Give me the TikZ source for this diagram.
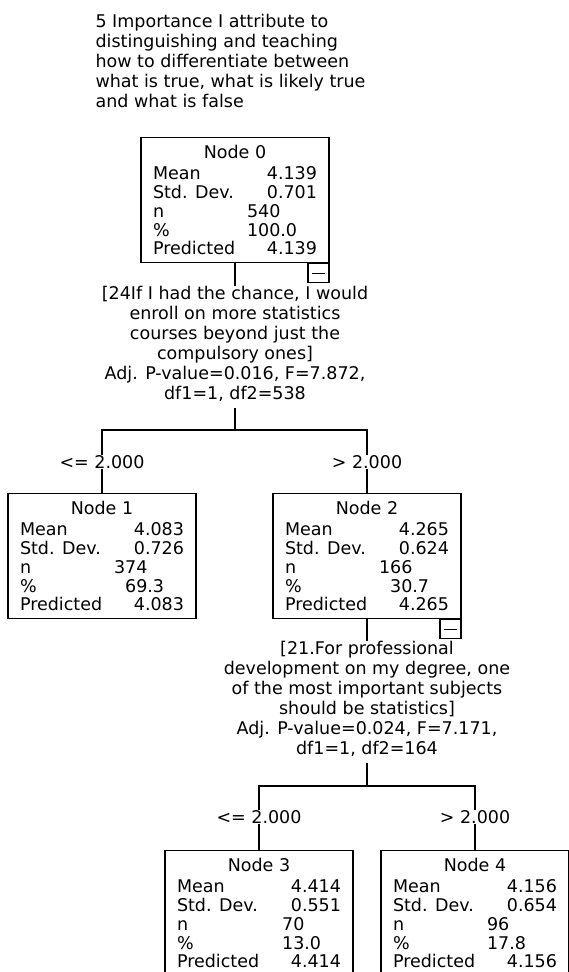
\documentclass[tikz,border=0pt]{standalone}
\usepackage{fontspec}
\setmainfont{DejaVu Sans}

% contenu d'un noeud de l'arbre
\newcommand{\nodestats}[6]{%
  \makebox[164pt][c]{#1}\\[3pt]
  \makebox[94pt][l]{Mean}\makebox[70pt][r]{#2}\\
  \makebox[94pt][l]{Std. Dev.}\makebox[70pt][r]{#3}\\
  \makebox[94pt][l]{n}\makebox[70pt][l]{#4}\\
  \makebox[94pt][l]{\%}\makebox[70pt][l]{#5}\\
  \makebox[94pt][l]{Predicted}\makebox[70pt][r]{#6}}

\begin{document}
\begin{tikzpicture}[x=1pt,y=-1pt,line width=1.1pt,
  every node/.style={inner sep=0pt,font=\fontsize{17.5}{20}\selectfont},
  treebox/.style={draw,anchor=north,minimum width=188pt,minimum height=125pt,
    align=left,font=\fontsize{17.5}{18.75}\selectfont},
  splittext/.style={anchor=north,align=center},
  togglebox/.style={draw,anchor=north east,minimum width=21pt,minimum height=19pt,
    path picture={\draw[line width=1pt] ([xshift=4pt]path picture bounding box.west)
      -- ([xshift=-4pt]path picture bounding box.east);}}]
  \useasboundingbox (0,0) rectangle (568,972);

  % variable dependante
  \node[anchor=north west,align=left] (title) at (95,14)
    {5 Importance I attribute to\\distinguishing and teaching\\how to differentiate between\\what is true, what is likely true\\and what is false};

  % niveau 0
  \node[treebox] (node0) at (235,137) {\nodestats{Node 0}{4.139}{0.701}{540}{100.0}{4.139}};
  \node[togglebox] (tog0) at (node0.south east) {};
  \node[splittext] (split0) at (235,286)
    {[24If I had the chance, I would\\enroll on more statistics\\courses beyond just the\\compulsory ones]\\Adj. P-value=0.016, F=7.872,\\df1=1, df2=538};
  \coordinate (fork0) at (235,430);

  % niveau 1
  \node (lab1) at (102,462) {<= 2.000};
  \node (lab2) at (367,462) {> 2.000};
  \node[treebox] (node1) at (102,493) {\nodestats{Node 1}{4.083}{0.726}{374}{\phantom{0}69.3}{4.083}};
  \node[treebox] (node2) at (367,493) {\nodestats{Node 2}{4.265}{0.624}{166}{\phantom{0}30.7}{4.265}};
  \node[togglebox] (tog2) at (node2.south east) {};
  \node[splittext] (split1) at (367,641)
    {[21.For professional\\development on my degree, one\\of the most important subjects\\should be statistics]\\Adj. P-value=0.024, F=7.171,\\df1=1, df2=164};
  \coordinate (fork1) at (367,786);

  % niveau 2
  \node (lab3) at (259,817) {<= 2.000};
  \node (lab4) at (475,817) {> 2.000};
  \node[treebox] (node3) at (259,850) {\nodestats{Node 3}{4.414}{0.551}{\phantom{0}70}{\phantom{0}13.0}{4.414}};
  \node[treebox] (node4) at (475,850) {\nodestats{Node 4}{4.156}{0.654}{96}{17.8}{4.156}};

  % liaisons
  \draw (node0.south) -- (split0.north);
  \draw[shorten <=6pt] (split0.south) -- (fork0);
  \draw (lab1.north) |- (fork0) -| (lab2.north);
  \draw (lab1.south) -- (node1.north);
  \draw (lab2.south) -- (node2.north);

  \draw (node2.south) -- (split1.north);
  \draw[shorten <=6pt] (split1.south) -- (fork1);
  \draw (lab3.north) |- (fork1) -| (lab4.north);
  \draw (lab3.south) -- (node3.north);
  \draw (lab4.south) -- (node4.north);
\end{tikzpicture}
\end{document}
